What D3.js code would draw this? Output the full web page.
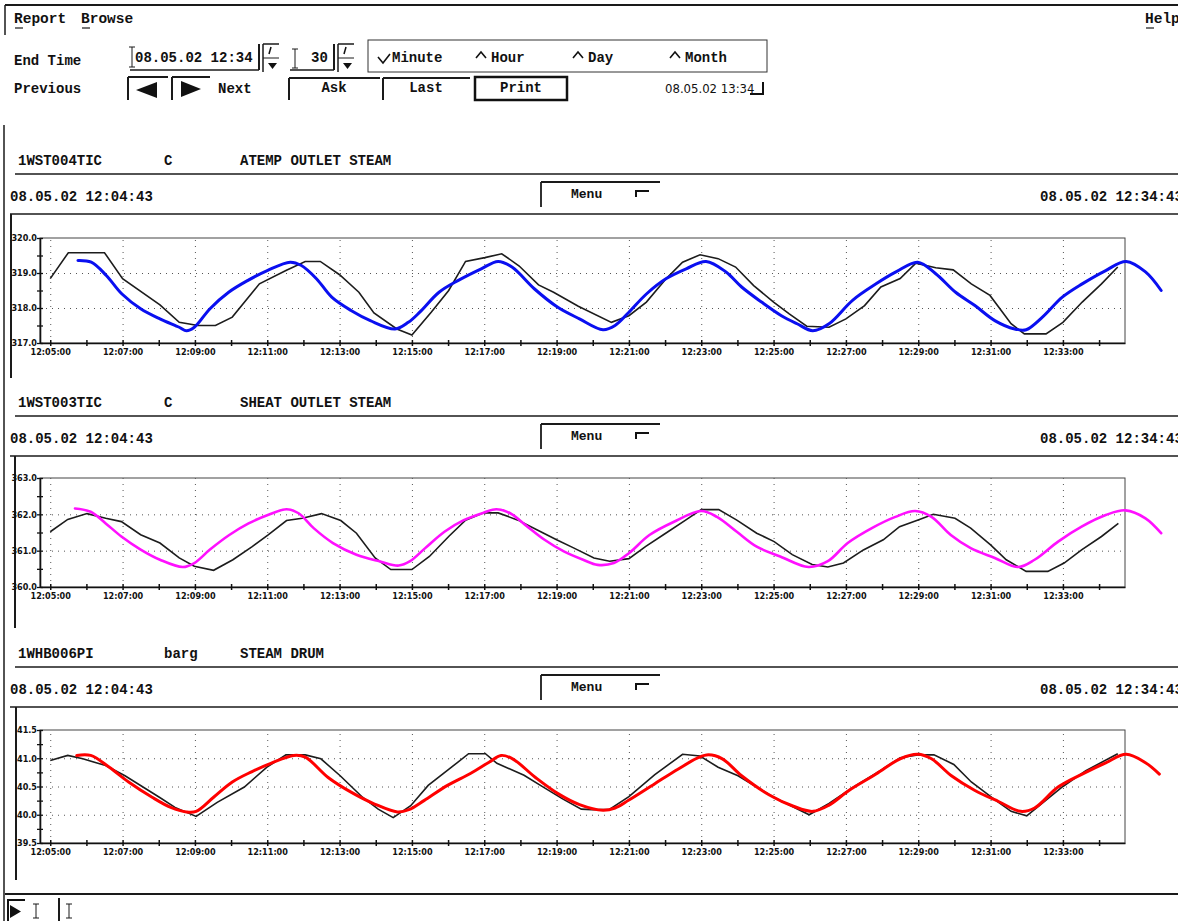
<!DOCTYPE html>
<html>
<head>
<meta charset="utf-8">
<script src="https://cdn.jsdelivr.net/npm/d3@7"></script>
<style>
body { margin: 0; background: #fff; }
svg { display: block; }
.mono { font-family: "Liberation Mono", "DejaVu Sans Mono", monospace; font-weight: bold; font-size: 14px; fill: #111; }
.narrow { font-family: "Liberation Sans Narrow", "DejaVu Sans Condensed", "Arial Narrow", sans-serif; fill: #111; }
.tick text { font-family: "Liberation Sans Narrow", "DejaVu Sans Condensed", sans-serif; font-weight: bold; font-size: 9px; fill: #111; }
</style>
</head>
<body>
<div id="chart"></div>
<script>
// window of the trend display
var startTime = "12:04:43", endTime = "12:34:43";
var startLabel = "08.05.02 12:04:43", endLabel = "08.05.02 12:34:43";

// x tick labels (every 2 minutes)
var xTickLabels = ["12:05:00","12:07:00","12:09:00","12:11:00","12:13:00","12:15:00","12:17:00",
  "12:19:00","12:21:00","12:23:00","12:25:00","12:27:00","12:29:00","12:31:00","12:33:00"];

// tag names
var tags = ["1WST004TIC", "1WST003TIC", "1WHB006PI"];
var units = ["C", "C", "barg"];
var descs = ["ATEMP OUTLET STEAM", "SHEAT OUTLET STEAM", "STEAM DRUM"];

// panel 1 - ATEMP OUTLET STEAM, measured (black)
var p1Times = ["12:05:00","12:05:30","12:06:30","12:07:00","12:08:02","12:08:34","12:09:05","12:09:34","12:10:02",
  "12:10:47","12:11:31","12:12:03","12:12:28","12:13:00","12:13:32","12:13:57","12:14:35","12:15:00","12:15:32",
  "12:16:01","12:16:29","12:17:01","12:17:29","12:17:58","12:18:30","12:18:55","12:19:36","12:20:31","12:21:00",
  "12:21:29","12:22:02","12:22:29","12:22:58","12:23:28","12:23:57","12:24:27","12:25:00","12:25:26","12:25:55",
  "12:26:32","12:27:00","12:27:31","12:27:58","12:28:30","12:28:56","12:29:29","12:29:58","12:30:28","12:30:59",
  "12:31:34","12:31:56","12:32:32","12:33:00","12:33:32","12:34:04","12:34:31"];
var p1Black = [318.84,319.58,319.58,318.84,318.09,317.59,317.50,317.50,317.74,
  318.69,319.07,319.33,319.33,318.95,318.45,317.86,317.40,317.23,317.88,
  318.50,319.33,319.44,319.55,319.20,318.66,318.45,318.05,317.59,317.78,
  318.17,318.84,319.31,319.52,319.41,319.17,318.64,318.17,317.83,317.48,
  317.45,317.69,318.07,318.60,318.84,319.28,319.15,319.09,318.69,318.36,
  317.55,317.26,317.26,317.59,318.17,318.69,319.17];
// panel 1 overlay (blue)
var p1FitTimes = ["12:05:46","12:06:08","12:06:33","12:06:59","12:07:30","12:08:02","12:08:34","12:08:46","12:08:59",
  "12:09:25","12:09:56","12:10:28","12:11:00","12:11:38","12:11:56","12:12:22","12:12:47","12:13:19","12:13:51",
  "12:14:32","12:14:54","12:15:13","12:15:45","12:16:17","12:16:55","12:17:23","12:17:46","12:18:23","12:19:02",
  "12:19:38","12:20:17","12:20:37","12:21:00","12:21:29","12:22:02","12:22:35","12:23:08","12:23:41","12:24:07",
  "12:24:40","12:25:13","12:25:39","12:26:05","12:26:32","12:27:11","12:27:50","12:28:23","12:28:59","12:29:29",
  "12:30:02","12:30:34","12:31:07","12:31:40","12:31:59","12:32:26","12:32:59","12:33:32","12:34:11","12:34:45",
  "12:35:17","12:35:43"];
var p1Fit = [319.36,319.31,318.93,318.40,317.98,317.69,317.45,317.35,317.45,
  317.98,318.45,318.79,319.07,319.31,319.22,318.83,318.31,317.93,317.64,
  317.40,317.59,317.88,318.45,318.79,319.12,319.33,319.17,318.55,318.02,
  317.69,317.38,317.50,317.88,318.40,318.84,319.12,319.33,319.03,318.60,
  318.17,317.78,317.55,317.35,317.55,318.22,318.69,319.03,319.31,318.98,
  318.45,318.07,317.64,317.40,317.38,317.74,318.31,318.69,319.07,319.33,
  319.03,318.50];

// panel 2 - SHEAT OUTLET STEAM, measured (black)
var p2Times = ["12:05:00","12:05:29","12:06:01","12:06:32","12:06:58","12:07:30","12:08:02","12:08:34","12:08:59",
  "12:09:31","12:10:03","12:10:35","12:11:01","12:11:32","12:11:58","12:12:30","12:13:02","12:13:28","12:13:59",
  "12:14:25","12:15:00","12:15:29","12:16:01","12:16:29","12:16:59","12:17:23","12:17:56","12:18:28","12:19:00",
  "12:19:29","12:20:02","12:20:28","12:21:00","12:21:28","12:22:01","12:22:34","12:23:00","12:23:29","12:23:59",
  "12:24:32","12:25:01","12:25:31","12:26:04","12:26:30","12:26:56","12:27:29","12:28:02","12:28:29","12:29:02",
  "12:29:25","12:30:01","12:30:27","12:31:00","12:31:26","12:31:59","12:32:35","12:33:02","12:33:31","12:34:04",
  "12:34:32"];
var p2Black = [361.52,361.86,362.02,361.89,361.80,361.44,361.21,360.80,360.57,
  360.46,360.75,361.11,361.43,361.83,361.89,362.02,361.83,361.48,360.80,
  360.48,360.48,360.84,361.39,361.84,362.04,362.04,361.84,361.57,361.30,
  361.07,360.80,360.71,360.78,361.12,361.48,361.84,362.13,362.13,361.84,
  361.48,361.25,360.89,360.62,360.55,360.66,361.02,361.30,361.66,361.86,
  362.00,361.89,361.62,361.16,360.75,360.43,360.43,360.66,361.02,361.39,
  361.75];
// panel 2 overlay (magenta)
var p2FitTimes = ["12:05:41","12:06:07","12:06:32","12:06:58","12:07:30","12:08:02","12:08:40","12:08:59","12:09:25",
  "12:09:57","12:10:29","12:11:01","12:11:32","12:11:52","12:12:17","12:12:49","12:13:28","12:14:06","12:14:38",
  "12:14:57","12:15:22","12:15:54","12:16:26","12:16:58","12:17:20","12:17:43","12:18:08","12:18:40","12:19:12",
  "12:19:44","12:20:08","12:20:35","12:21:00","12:21:34","12:22:14","12:23:00","12:23:26","12:23:59","12:24:32",
  "12:25:11","12:25:58","12:26:30","12:27:03","12:27:43","12:28:22","12:28:55","12:29:22","12:29:54","12:30:27",
  "12:31:07","12:31:46","12:32:13","12:32:52","12:33:31","12:34:11","12:34:44","12:35:17","12:35:43"];
var p2Fit = [362.16,362.07,361.75,361.39,361.03,360.75,360.55,360.66,361.03,
  361.43,361.75,361.98,362.14,362.03,361.62,361.21,360.89,360.71,360.59,
  360.71,361.07,361.52,361.84,362.04,362.14,362.03,361.71,361.30,360.98,
  360.75,360.61,360.66,360.93,361.43,361.79,362.09,361.93,361.52,361.11,
  360.84,360.55,360.71,361.21,361.62,361.93,362.09,361.93,361.43,361.07,
  360.80,360.55,360.75,361.25,361.66,361.98,362.11,361.89,361.48];

// panel 3 - STEAM DRUM, measured (black)
var p3Times = ["12:05:00","12:05:29","12:05:54","12:06:32","12:07:04","12:08:01","12:08:27","12:09:02","12:09:37",
  "12:10:22","12:10:59","12:11:31","12:12:03","12:12:29","12:13:01","12:13:38","12:14:04","12:14:29","12:14:58",
  "12:15:27","12:16:02","12:16:34","12:17:02","12:17:21","12:18:06","12:18:38","12:19:10","12:19:41","12:19:58",
  "12:20:27","12:21:00","12:21:43","12:22:29","12:22:58","12:23:28","12:24:01","12:25:00","12:25:59","12:26:32",
  "12:27:12","12:27:57","12:28:30","12:28:59","12:29:26","12:29:59","12:30:28","12:31:08","12:31:34","12:32:00",
  "12:32:32","12:33:00","12:33:38","12:34:31"];
var p3Black = [40.96,41.05,40.99,40.87,40.69,40.31,40.13,39.97,40.22,
  40.49,40.84,41.06,41.06,40.99,40.69,40.31,40.10,39.95,40.16,
  40.52,40.81,41.08,41.08,40.91,40.70,40.49,40.28,40.10,40.09,
  40.09,40.32,40.71,41.07,41.04,40.84,40.69,40.31,40.00,40.20,
  40.49,40.78,41.01,41.06,41.06,40.89,40.58,40.26,40.06,39.98,
  40.26,40.50,40.78,41.08];
// panel 3 overlay (red)
var p3FitTimes = ["12:05:44","12:06:07","12:06:38","12:07:10","12:07:49","12:08:20","12:08:46","12:09:02","12:09:31",
  "12:10:02","12:10:34","12:11:06","12:11:44","12:12:03","12:12:41","12:13:19","12:13:58","12:14:36","12:14:55",
  "12:15:20","12:15:59","12:16:37","12:17:08","12:17:28","12:17:47","12:18:25","12:19:03","12:19:38","12:20:17",
  "12:20:37","12:21:00","12:21:43","12:22:22","12:22:55","12:23:12","12:23:35","12:24:07","12:24:53","12:25:33",
  "12:26:05","12:26:32","12:27:05","12:27:50","12:28:30","12:28:59","12:29:22","12:29:55","12:30:34","12:31:14",
  "12:31:50","12:32:13","12:32:52","12:33:32","12:34:11","12:34:45","12:35:17","12:35:40"];
var p3Fit = [41.05,41.05,40.84,40.58,40.31,40.13,40.05,40.06,40.31,
  40.58,40.76,40.91,41.05,41.02,40.66,40.40,40.19,40.05,40.09,
  40.25,40.52,40.73,40.93,41.05,40.99,40.66,40.37,40.18,40.08,
  40.12,40.26,40.55,40.81,41.01,41.06,40.99,40.69,40.35,40.15,
  40.06,40.17,40.43,40.72,40.99,41.07,40.99,40.69,40.43,40.23,
  40.06,40.12,40.49,40.72,40.92,41.07,40.92,40.72];

var W = 1178, H = 921;
var parseT = d3.timeParse("%H:%M:%S");
var fmtT = d3.timeFormat("%H:%M:%S");

var svg = d3.select("#chart").append("svg")
    .attr("width", W)
    .attr("height", H);
svg.append("rect").attr("width", W).attr("height", H).attr("fill", "#fff");

var x = d3.scaleTime()
    .domain([parseT(startTime), parseT(endTime)])
    .range([40, 1125]);

var majorTicks = xTickLabels.map(parseT);
var minuteTicks = d3.timeMinute.range(parseT("12:05:00"), parseT("12:34:43"));

function hline(x1, x2, y, w) {
    svg.append("line").attr("x1", x1).attr("x2", x2).attr("y1", y).attr("y2", y)
        .attr("stroke", "#1a1a1a").attr("stroke-width", w || 1.5);
}
function vline(xx, y1, y2, w) {
    svg.append("line").attr("x1", xx).attr("x2", xx).attr("y1", y1).attr("y2", y2)
        .attr("stroke", "#1a1a1a").attr("stroke-width", w || 1.5);
}
function txt(s, xx, yy, cls, size, anchor) {
    return svg.append("text").attr("class", cls || "mono").attr("x", xx).attr("y", yy)
        .attr("dy", "0.35em").style("font-size", (size || 14) + "px")
        .attr("text-anchor", anchor || "start").text(s);
}
function cursorI(xx, y1, y2) {
    vline(xx, y1, y2, 1);
    hline(xx - 3, xx + 3, y1, 1);
    hline(xx - 3, xx + 3, y2, 1);
}
function spinner(xx, y1, y2) {
    vline(xx, y1, y2, 1.5);
    hline(xx, xx + 16, y1, 1.5);
    hline(xx, xx + 16, (y1 + y2) / 2, 1);
    svg.append("line").attr("x1", xx + 6).attr("y1", y1 + 10).attr("x2", xx + 8).attr("y2", y1 + 3)
        .attr("stroke", "#111").attr("stroke-width", 1.5);
    svg.append("path").attr("d", "M" + (xx + 5) + "," + (y2 - 9) + "h9l-4.5,6z").attr("fill", "#111");
}

// ---------- top control area ----------
hline(5, W, 5, 2);
vline(5, 5, 35, 1.5);
txt("Report", 14, 18, "mono", 14.5);
txt("Browse", 81, 18, "mono", 14.5);
txt("Help", 1145, 18, "mono", 14.5);
hline(15, 23, 28, 1.2);
hline(82, 90, 28, 1.2);
hline(1146, 1154, 28, 1.2);

txt("End Time", 14, 60);
txt("08.05.02 12:34", 135, 57);
hline(130, 259, 70, 1.5);
vline(259, 44, 70, 2);
cursorI(132, 47, 67);
spinner(263, 44, 72);
cursorI(295, 49, 68);
txt("30", 311, 57);
hline(290, 334, 70, 1.5);
vline(334, 44, 70, 2);
spinner(338, 44, 72);

svg.append("rect").attr("x", 368).attr("y", 40).attr("width", 399).attr("height", 32)
    .attr("fill", "none").attr("stroke", "#333").attr("stroke-width", 1);
svg.append("path").attr("d", "M378,57l5,6l7,-9").attr("fill", "none").attr("stroke", "#111").attr("stroke-width", 1.6);
txt("Minute", 392, 57);
var carets = [[476, "Hour"], [573, "Day"], [670, "Month"]];
carets.forEach(function(c) {
    svg.append("path").attr("d", "M" + c[0] + ",58l5,-6l5,6").attr("fill", "none")
        .attr("stroke", "#111").attr("stroke-width", 1.6);
    txt(c[1], c[0] + 15, 57);
});

txt("Previous", 14, 88);
hline(128, 168, 77, 2); vline(128, 77, 100, 2);
svg.append("path").attr("d", "M136,90L157,82V98Z").attr("fill", "#111");
hline(172, 210, 77, 2); vline(172, 77, 100, 2);
svg.append("path").attr("d", "M181,81V97L201,89Z").attr("fill", "#111");
txt("Next", 218, 88);
hline(289, 380, 78, 2); vline(289, 78, 100, 2);
txt("Ask", 334, 87, "mono", 14, "middle");
hline(383, 470, 78, 2); vline(383, 78, 100, 2);
txt("Last", 426, 87, "mono", 14, "middle");
svg.append("rect").attr("x", 475).attr("y", 77).attr("width", 92).attr("height", 23)
    .attr("fill", "none").attr("stroke", "#111").attr("stroke-width", 2.5);
txt("Print", 521, 87, "mono", 14, "middle");
txt("08.05.02 13:34", 665, 88, "narrow", 13);
svg.append("path").attr("d", "M750,94H763V82").attr("fill", "none").attr("stroke", "#111").attr("stroke-width", 2);

// outer border
vline(4, 125, H, 1.5);
hline(5, W, 894, 2);
svg.append("path").attr("d", "M8,921V900H25").attr("fill", "none").attr("stroke", "#111").attr("stroke-width", 2);
svg.append("path").attr("d", "M10,905V918L21,911.5Z").attr("fill", "#111");
cursorI(36, 904, 918);
vline(59, 898, 921, 2);
cursorI(69, 904, 918);

// ---------- trend panels ----------
var panels = [
    { hy: 160, top: 238, bot: 343, yMin: 317, yMax: 320, minor: 0.5, frameX: 11, frameBot: 378,
      bt: p1Times, bv: p1Black, ft: p1FitTimes, fv: p1Fit, color: "#0a0ff0", fw: 3 },
    { hy: 402, top: 478, bot: 587, yMin: 360, yMax: 363, minor: 0.5, frameX: 15, frameBot: 628,
      bt: p2Times, bv: p2Black, ft: p2FitTimes, fv: p2Fit, color: "#ff10ff", fw: 2.6 },
    { hy: 653, top: 730, bot: 843, yMin: 39.5, yMax: 41.5, minor: 0.25, frameX: 16, frameBot: 880,
      bt: p3Times, bv: p3Black, ft: p3FitTimes, fv: p3Fit, color: "#ff0000", fw: 3 }
];

panels.forEach(function(p, i) {
    // header
    txt(tags[i], 18, p.hy);
    txt(units[i], 164, p.hy);
    txt(descs[i], 240, p.hy);
    hline(15, W, p.hy + 14, 1.5);
    txt(startLabel, 10, p.hy + 36);
    txt(endLabel, 1040, p.hy + 36);
    hline(541, 660, p.hy + 22, 1.8);
    vline(541, p.hy + 22, p.hy + 47, 1.8);
    txt("Menu", 571, p.hy + 33, "mono", 13);
    svg.append("path").attr("d", "M636," + (p.hy + 37) + "V" + (p.hy + 31) + "H649")
        .attr("fill", "none").attr("stroke", "#111").attr("stroke-width", 2);
    hline(10, W, p.hy + 54, 1.5);
    vline(p.frameX, p.hy + 54, p.frameBot, 2);

    var y = d3.scaleLinear().domain([p.yMin, p.yMax]).range([p.bot, p.top]);
    var majorY = d3.range(p.yMin, p.yMax + 1e-9, p.yMax - p.yMin > 2.5 ? 1 : 0.5);
    var minorY = d3.range(p.yMin, p.yMax + 1e-9, p.minor);
    var g = svg.append("g");

    // frame
    g.append("rect").attr("x", x.range()[0]).attr("y", p.top)
        .attr("width", x.range()[1] - x.range()[0]).attr("height", p.bot - p.top)
        .attr("fill", "none").attr("stroke", "#444").attr("stroke-width", 1);

    // dotted grid
    g.append("g").attr("transform", "translate(0," + p.bot + ")")
        .call(d3.axisBottom(x).tickValues(majorTicks).tickSize(-(p.bot - p.top)).tickFormat(""))
        .call(function(s) {
            s.select(".domain").remove();
            s.selectAll("line").attr("stroke", "#555").attr("stroke-dasharray", "1,5");
        });
    g.append("g").attr("transform", "translate(" + x.range()[0] + ",0)")
        .call(d3.axisLeft(y).tickValues(majorY.slice(1, -1)).tickSize(-(x.range()[1] - x.range()[0])).tickFormat(""))
        .call(function(s) {
            s.select(".domain").remove();
            s.selectAll("line").attr("stroke", "#555").attr("stroke-dasharray", "1,5");
        });

    // x axis: minute ticks across the axis line, labels every 2 minutes
    g.append("g").attr("transform", "translate(0," + p.bot + ")")
        .call(d3.axisBottom(x).tickValues(minuteTicks).tickSize(3).tickSizeOuter(0).tickFormat(""))
        .call(function(s) {
            s.select(".domain").attr("stroke", "#111").attr("stroke-width", 1.6);
            s.selectAll("line").attr("stroke", "#111").attr("stroke-width", 1.5);
        });
    g.append("g").attr("transform", "translate(0," + p.bot + ")")
        .call(d3.axisBottom(x).tickValues(minuteTicks).tickSize(-3).tickFormat(""))
        .call(function(s) {
            s.select(".domain").remove();
            s.selectAll("line").attr("stroke", "#111").attr("stroke-width", 1.5);
        });
    g.append("g").attr("transform", "translate(0," + p.bot + ")")
        .call(d3.axisBottom(x).tickValues(majorTicks).tickSize(0).tickPadding(6).tickFormat(fmtT))
        .call(function(s) { s.select(".domain").remove(); });

    // y axis
    g.append("g").attr("transform", "translate(" + x.range()[0] + ",0)")
        .call(d3.axisLeft(y).tickValues(minorY).tickSize(3).tickSizeOuter(0).tickFormat(""))
        .call(function(s) {
            s.select(".domain").attr("stroke", "#111").attr("stroke-width", 1.6);
            s.selectAll("line").attr("stroke", "#111").attr("stroke-width", 1.3);
        });
    g.append("g").attr("transform", "translate(" + x.range()[0] + ",0)")
        .call(d3.axisLeft(y).tickValues(minorY).tickSize(-3).tickFormat(""))
        .call(function(s) {
            s.select(".domain").remove();
            s.selectAll("line").attr("stroke", "#111").attr("stroke-width", 1.3);
        });
    g.append("g").attr("transform", "translate(" + x.range()[0] + ",0)")
        .call(d3.axisLeft(y).tickValues(majorY).tickSize(0).tickPadding(3).tickFormat(d3.format(".1f")))
        .call(function(s) { s.select(".domain").remove(); });

    // measured trend (black) and overlay curve
    var black = p.bt.map(function(t, k) { return { t: parseT(t), v: p.bv[k] }; });
    var fit = p.ft.map(function(t, k) { return { t: parseT(t), v: p.fv[k] }; });
    var lineLin = d3.line().x(function(d) { return x(d.t); }).y(function(d) { return y(d.v); });
    var lineSmooth = d3.line().curve(d3.curveCatmullRom)
        .x(function(d) { return x(d.t); }).y(function(d) { return y(d.v); });

    g.append("path").datum(black).attr("d", lineLin)
        .attr("fill", "none").attr("stroke", "#1c1c1c").attr("stroke-width", 1.6);
    g.append("path").datum(fit).attr("d", lineSmooth)
        .attr("fill", "none").attr("stroke", p.color).attr("stroke-width", p.fw)
        .attr("stroke-linejoin", "round").attr("stroke-linecap", "round");
});
</script>
</body>
</html>
